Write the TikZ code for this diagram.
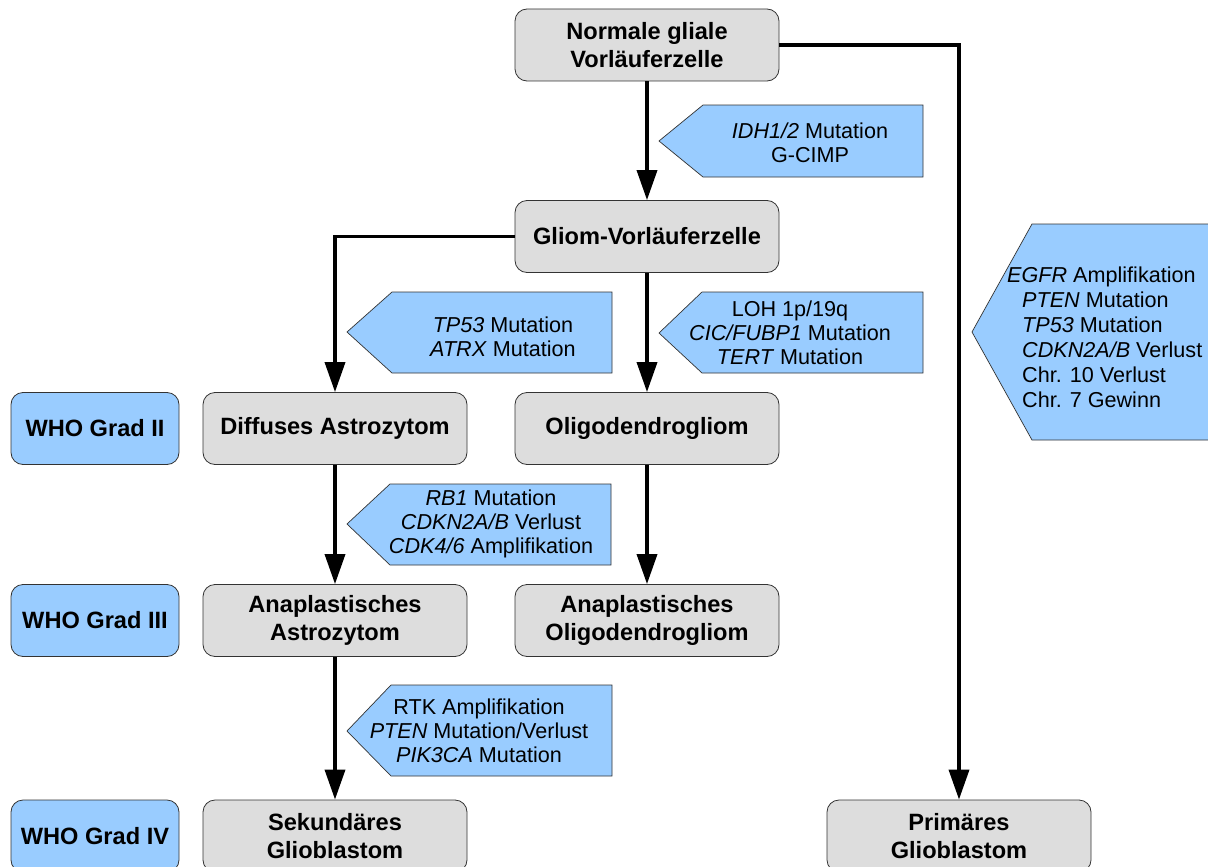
\documentclass[tikz,border=0pt]{standalone}
\usepackage{fontspec}
\setmainfont{Liberation Sans}
\usetikzlibrary{arrows.meta}
\definecolor{boxgray}{HTML}{DDDDDD}
\definecolor{tagblue}{HTML}{99CCFF}
\definecolor{edgegray}{HTML}{333333}
\tikzset{
  stage/.style={draw=edgegray, line width=0.8pt, fill=boxgray, rounded corners=12pt,
    minimum width=264pt, minimum height=72pt, inner sep=0pt, align=center,
    font=\fontsize{23.6}{27.5}\selectfont\bfseries},
  grade/.style={stage, fill=tagblue, minimum width=168pt},
  conn/.style={line width=3.6pt, -{Triangle[length=30pt,width=20pt]}},
  tagshape/.style={draw=edgegray, line width=0.7pt, fill=tagblue},
  tagtext/.style={align=center, inner sep=0pt, font=\fontsize{21.6}{24.2}\selectfont},
}
\begin{document}
\begin{tikzpicture}[x=1pt,y=-1pt]
\useasboundingbox (0,0) rectangle (1208,867);
\clip (0,0) rectangle (1208,867);

% stage boxes
\node[stage] (ngv) at (647,45) {Normale gliale\\Vorläuferzelle};
\node[stage] (gv) at (647,236.5) {Gliom-Vorläuferzelle};
\node[stage] (da) at (335,428.5) {Diffuses Astrozytom};
\node[stage] (og) at (647,428.5) {Oligodendrogliom};
\node[stage] (aa) at (335,620.5) {Anaplastisches\\Astrozytom};
\node[stage] (ao) at (647,620.5) {Anaplastisches\\Oligodendrogliom};
\node[stage] (sg) at (335,836) {Sekundäres\\Glioblastom};
\node[stage] (pg) at (959,836) {Primäres\\Glioblastom};

% grade boxes
\node[grade] (g2) at (95,428.5) {WHO Grad II};
\node[grade] (g3) at (95,620.5) {WHO Grad III};
\node[grade] (g4) at (95,836) {WHO Grad IV};

% connectors
\draw[conn] (ngv) -- (gv);
\draw[conn] (ngv.east) -| (pg.north);
\draw[conn] (gv.west) -| (da.north);
\draw[conn] (gv) -- (og);
\draw[conn] (da) -- (aa);
\draw[conn] (og) -- (ao);
\draw[conn] (aa) -- (sg);

% tags
\draw[tagshape] (659,141) -- (703,105) -- (923,105) -- (923,177) -- (703,177) -- cycle;
\node[tagtext] (t1) at (810,143) {\textit{IDH1/2} Mutation\\G-CIMP};

\draw[tagshape] (347,332) -- (392,292) -- (612,292) -- (612,373) -- (392,373) -- cycle;
\node[tagtext] (t2) at (503,337) {\textit{TP53} Mutation\\\textit{ATRX} Mutation};

\draw[tagshape] (659,333) -- (702,292) -- (923,292) -- (923,373) -- (702,373) -- cycle;
\node[tagtext] (t3) at (790,333) {LOH 1p/19q\\\textit{CIC/FUBP1} Mutation\\\textit{TERT} Mutation};

\draw[tagshape] (347,524) -- (390,484) -- (611,484) -- (611,565) -- (390,565) -- cycle;
\node[tagtext] (t4) at (491,524) {\textit{RB1} Mutation\\\textit{CDKN2A/B} Verlust\\\textit{CDK4/6} Amplifikation};

\draw[tagshape] (347,731) -- (391,685) -- (612,685) -- (612,776) -- (391,776) -- cycle;
\node[tagtext] (t5) at (479,731) {RTK Amplifikation\\\textit{PTEN} Mutation/Verlust\\\textit{PIK3CA} Mutation};

\draw[tagshape] (972,332) -- (1032,224) -- (1215,224) -- (1215,440) -- (1032,440) -- cycle;
\node[tagtext, align=left, anchor=west, font=\fontsize{21.6}{25}\selectfont] (t6) at (1022,337)
  {\hspace*{-15pt}\textit{EGFR} Amplifikation\\\textit{PTEN} Mutation\\\textit{TP53} Mutation\\\textit{CDKN2A/B} Verlust\\Chr. 10 Verlust\\Chr. 7 Gewinn};
\end{tikzpicture}
\end{document}
